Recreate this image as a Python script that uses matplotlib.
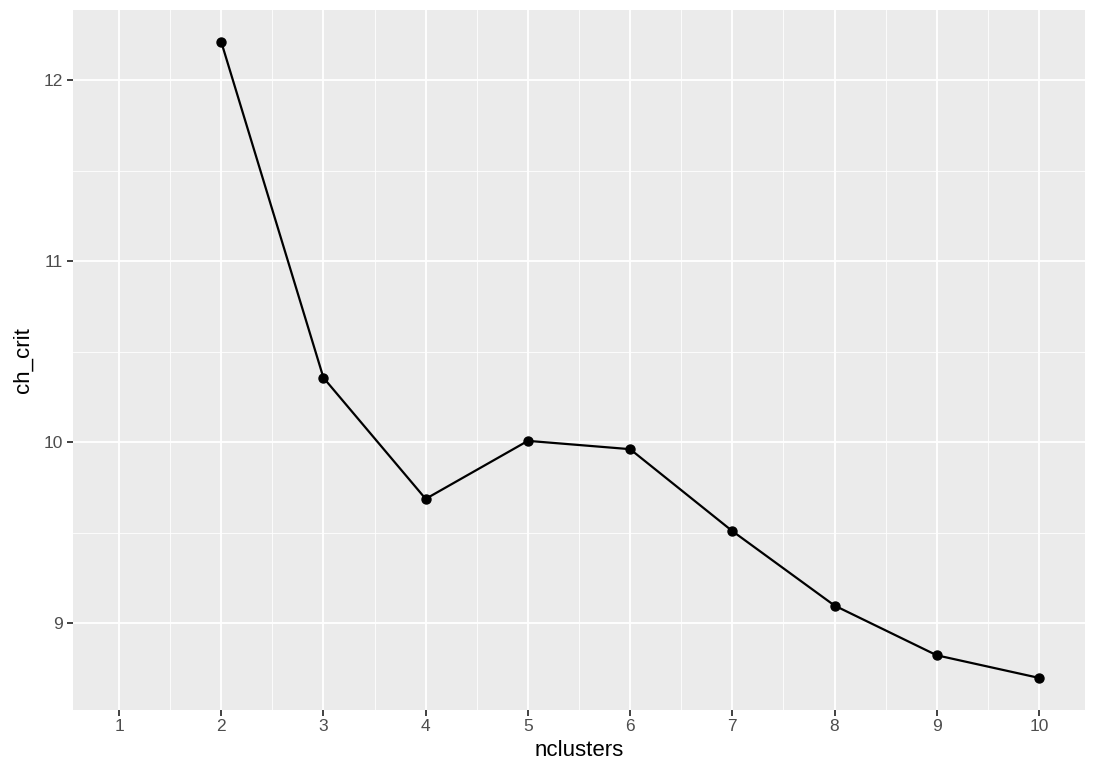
import numpy as np
import matplotlib
matplotlib.use("Agg")
import matplotlib.pyplot as plt

plt.rcParams['font.family'] = ['Liberation Sans', 'DejaVu Sans']

nclusters = [1, 2, 3, 4, 5, 6, 7, 8, 9, 10]
ch_crit = [np.nan, 12.214, 10.356, 9.686, 10.007, 9.961, 9.508, 9.096, 8.821, 8.696]
x_ticks = [1, 2, 3, 4, 5, 6, 7, 8, 9, 10]
y_ticks = [9, 10, 11, 12]

W, H = 1095, 781
fig = plt.figure(figsize=(W / 100, H / 100), dpi=100)
ax = fig.add_axes([73 / W, (H - 709.7) / H, 1012 / W, 699.7 / H])
ax.set_facecolor("#EBEBEB")

xs = np.array(nclusters, dtype=float)
ys = np.array(ch_crit, dtype=float)
xmin, xmax = xs.min(), xs.max()
valid = ~np.isnan(ys)
ymin, ymax = ys[valid].min(), ys[valid].max()
ax.set_xlim(xmin - 0.05 * (xmax - xmin), xmax + 0.05 * (xmax - xmin))
ax.set_ylim(ymin - 0.05 * (ymax - ymin), ymax + 0.05 * (ymax - ymin))

# minor grid
for v in np.arange(1.5, 10.5, 1):
    ax.axvline(v, color="white", lw=0.6, zorder=0)
for v in np.arange(8.5, 12.5, 1):
    ax.axhline(v, color="white", lw=0.6, zorder=0)
for v in x_ticks:
    ax.axvline(v, color="white", lw=1.3, zorder=0)
for v in y_ticks:
    ax.axhline(v, color="white", lw=1.3, zorder=0)

ax.plot(xs[valid], ys[valid], color="black", lw=1.6, zorder=2)
ax.scatter(xs[valid], ys[valid], color="black", s=42, zorder=3)

ax.set_xticks(x_ticks)
ax.set_xticklabels([str(t) for t in x_ticks])
ax.set_yticks(y_ticks)
ax.set_yticklabels([str(t) for t in y_ticks])
ax.tick_params(axis="both", colors="#333333", labelcolor="#4D4D4D", labelsize=12.5,
               length=4, width=1.3, direction="out", pad=3)
for s in ax.spines.values():
    s.set_visible(False)

ax.set_xlabel("nclusters", fontsize=16, color="black", labelpad=4)
ax.set_ylabel("ch_crit", fontsize=16, color="black", labelpad=7)

fig.savefig("out.png", dpi=100, facecolor="white")
